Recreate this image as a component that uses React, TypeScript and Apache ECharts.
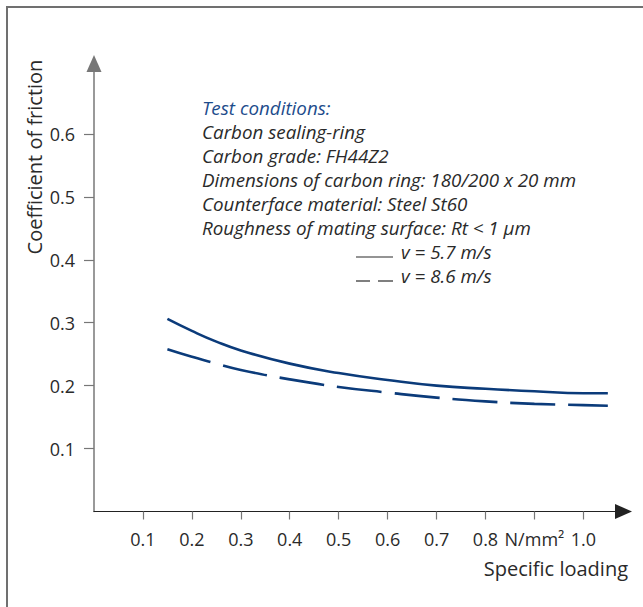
import React, { useEffect, useRef } from "react";
import * as echarts from "echarts";

const xTicks = [0.1, 0.2, 0.3, 0.4, 0.5, 0.6, 0.7, 0.8, 0.9, 1.0];
const xTickLabels = ["0.1", "0.2", "0.3", "0.4", "0.5", "0.6", "0.7", "0.8", "N/mm²", "1.0"];
const yTicks = [0.1, 0.2, 0.3, 0.4, 0.5, 0.6];
const yTickLabels = ["0.1", "0.2", "0.3", "0.4", "0.5", "0.6"];

const loading = [0.15, 0.2, 0.25, 0.3, 0.4, 0.5, 0.6, 0.7, 0.8, 0.9, 1.0, 1.05];
const frictionV57 = [0.306, 0.287, 0.27, 0.256, 0.235, 0.22, 0.209, 0.2, 0.195, 0.191, 0.188, 0.188];
const frictionV86 = [0.258, 0.246, 0.235, 0.225, 0.21, 0.198, 0.189, 0.181, 0.175, 0.171, 0.169, 0.168];

const seriesNames = ["v = 5.7 m/s", "v = 8.6 m/s"];
const conditionTitle = "Test conditions:";
const conditions = [
  "Carbon sealing-ring",
  "Carbon grade: FH44Z2",
  "Dimensions of carbon ring: 180/200 x 20 mm",
  "Counterface material: Steel St60",
  "Roughness of mating surface: Rt < 1 µm",
];
const xTitle = "Specific loading";
const yTitle = "Coefficient of friction";

const FONT = "'Open Sans', 'Noto Sans', sans-serif";
const NAVY = "#0b3b7a";
const TEXT = "#2a2a2a";

export default function App() {
  const ref = useRef<HTMLDivElement>(null);
  useEffect(() => {
    if (!ref.current) return;
    const chart = echarts.init(ref.current, undefined, { renderer: "svg" });
    const lineH = 24.1;
    const tx = 202;
    const ty0 = 107.5;
    const ITF = `italic 18.8px ${FONT}`;
    const graphic: any[] = [
      {
        type: "rect",
        shape: { x: 7, y: 7, width: 800, height: 800 },
        style: { fill: "none", stroke: "#707070", lineWidth: 2 },
        silent: true,
      },
      {
        type: "text",
        x: tx,
        y: ty0,
        style: { text: conditionTitle, font: ITF, fill: "#1d4c8c", textVerticalAlign: "middle" },
      },
      ...conditions.map((c, i) => ({
        type: "text",
        x: tx,
        y: ty0 + lineH * (i + 1),
        style: { text: c, font: ITF, fill: TEXT, textVerticalAlign: "middle" },
      })),
      {
        type: "line",
        shape: { x1: 356, y1: 257, x2: 393, y2: 257 },
        style: { stroke: TEXT, lineWidth: 1.2 },
      },
      {
        type: "line",
        shape: { x1: 356, y1: 281, x2: 370, y2: 281 },
        style: { stroke: TEXT, lineWidth: 1.2 },
      },
      {
        type: "line",
        shape: { x1: 378, y1: 281, x2: 393, y2: 281 },
        style: { stroke: TEXT, lineWidth: 1.2 },
      },
      {
        type: "text",
        x: 401,
        y: ty0 + lineH * 6,
        style: { text: seriesNames[0], font: ITF, fill: TEXT, textVerticalAlign: "middle" },
      },
      {
        type: "text",
        x: 401,
        y: ty0 + lineH * 7,
        style: { text: seriesNames[1], font: ITF, fill: TEXT, textVerticalAlign: "middle" },
      },
      {
        type: "text",
        x: 628,
        y: 568,
        style: { text: xTitle, font: `20px ${FONT}`, fill: TEXT, textAlign: "right", textVerticalAlign: "middle" },
      },
      {
        type: "text",
        x: 34,
        y: 157,
        rotation: Math.PI / 2,
        style: { text: yTitle, font: `20px ${FONT}`, fill: TEXT, textAlign: "center", textVerticalAlign: "middle" },
      },
    ];

    chart.setOption({
      animation: false,
      grid: { left: 94, right: 19.5, top: 63.5, bottom: 95.5, containLabel: false },
      xAxis: {
        type: "value",
        min: 0,
        max: 1.082,
        axisLine: {
          show: true,
          onZero: false,
          symbol: ["none", "triangle"],
          symbolSize: [15, 17],
          lineStyle: { color: "#222", width: 1.2 },
        },
        axisTick: { show: true, customValues: xTicks, length: 8, lineStyle: { color: "#777", width: 1.2 } },
        axisLabel: {
          show: true,
          customValues: xTicks,
          margin: 18,
          fontSize: 18,
          fontFamily: FONT,
          color: TEXT,
          formatter: (v: number) => {
            const i = xTicks.findIndex((t) => Math.abs(t - v) < 1e-6);
            return i >= 0 ? xTickLabels[i] : "";
          },
        },
        splitLine: { show: false },
      },
      yAxis: {
        type: "value",
        min: 0,
        max: 0.712,
        axisLine: {
          show: true,
          onZero: false,
          symbol: ["none", "triangle"],
          symbolSize: [15, 17],
          lineStyle: { color: "#777", width: 1.5 },
        },
        axisTick: { show: true, customValues: yTicks, length: 10, lineStyle: { color: "#777", width: 1.2 } },
        axisLabel: {
          show: true,
          customValues: yTicks,
          margin: 19,
          fontSize: 18,
          fontFamily: FONT,
          color: TEXT,
          formatter: (v: number) => {
            const i = yTicks.findIndex((t) => Math.abs(t - v) < 1e-6);
            return i >= 0 ? yTickLabels[i] : "";
          },
        },
        splitLine: { show: false },
      },
      series: [
        {
          name: seriesNames[0],
          type: "line",
          smooth: true,
          showSymbol: false,
          data: loading.map((x, i) => [x, frictionV57[i]]),
          lineStyle: { color: NAVY, width: 2.6 },
        },
        {
          name: seriesNames[1],
          type: "line",
          smooth: true,
          showSymbol: false,
          data: loading.map((x, i) => [x, frictionV86[i]]),
          lineStyle: { color: NAVY, width: 2.6, type: [45, 13] },
        },
      ],
      graphic,
    });
    return () => chart.dispose();
  }, []);
  return (
    <div
      ref={ref}
      style={{ position: "absolute", left: 0, top: 0, width: 643, height: 607, background: "#fff" }}
    />
  );
}
